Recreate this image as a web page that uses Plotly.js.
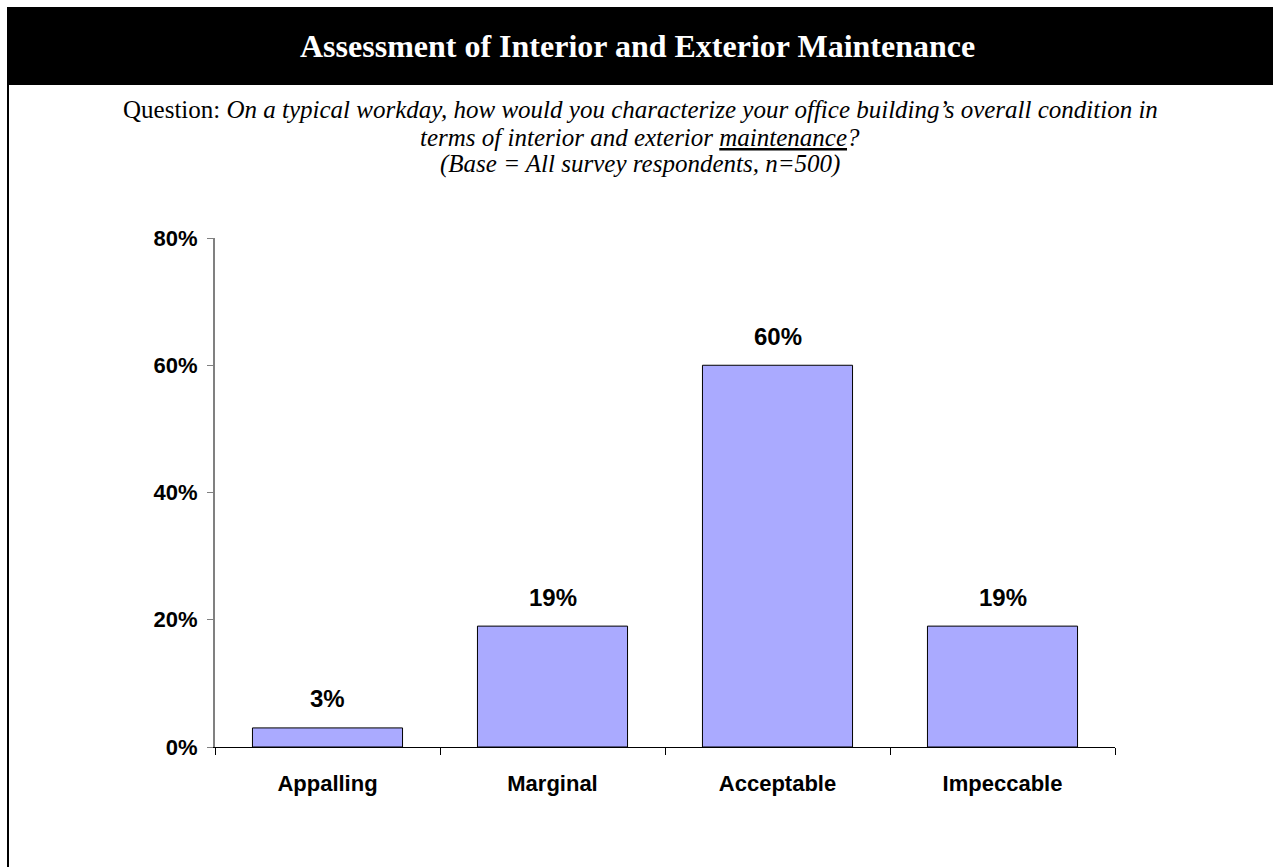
<!DOCTYPE html>
<html>
<head>
<meta charset="utf-8">
<script src="https://cdn.plot.ly/plotly-3.0.1.min.js"></script>
<style>html,body{margin:0;padding:0;background:#fff;}#chart{width:1273px;height:867px;}</style>
</head>
<body>
<div id="chart"></div>
<script>
const categories = ["Appalling", "Marginal", "Acceptable", "Impeccable"];
const values = [3, 19, 60, 19];
const valueLabels = ["3%", "19%", "60%", "19%"];
const yTickValues = [0, 20, 40, 60, 80];
const yTickLabels = ["0%", "20%", "40%", "60%", "80%"];

const titleText = "Assessment of Interior and Exterior Maintenance";
const questionLine1 = "Question: <i>On a typical workday, how would you characterize your office building\u2019s overall condition in</i>";
const questionLine2 = "<i>terms of interior and exterior <u>maintenance</u>?</i>";
const questionLine3 = "<i>(Base = All survey respondents, n=500)</i>";

const W = 1273, H = 867;
const L = 215, R = 1115, T = 238, B = 747;
const px = x => (x - L) / (R - L);
const py = y => (B - y) / (B - T);

const sans = "Liberation Sans, Arial, sans-serif";
const serif = "Liberation Serif, Times New Roman, serif";

const trace = {
  type: "bar",
  x: categories,
  y: values,
  marker: { color: "#AAAAFF", line: { color: "#000000", width: 1 } },
  hoverinfo: "skip"
};

const annotations = categories.map((c, i) => ({
  x: c, y: values[i], xref: "x", yref: "y",
  text: valueLabels[i], showarrow: false,
  yanchor: "middle", yshift: 29,
  font: { family: sans, size: 24, color: "#000", weight: "bold" }
}));

const qFont = { family: serif, size: 25, color: "#000" };
annotations.push(
  { xref: "paper", yref: "paper", x: px(637), y: py(46), text: "<b>" + titleText + "</b>", showarrow: false,
    xanchor: "center", yanchor: "middle", font: { family: serif, size: 32, color: "#fff" } },
  { xref: "paper", yref: "paper", x: px(640), y: py(110), text: questionLine1, showarrow: false,
    xanchor: "center", yanchor: "middle", font: qFont },
  { xref: "paper", yref: "paper", x: px(640), y: py(137), text: questionLine2, showarrow: false,
    xanchor: "center", yanchor: "middle", font: qFont },
  { xref: "paper", yref: "paper", x: px(640), y: py(164), text: questionLine3, showarrow: false,
    xanchor: "center", yanchor: "middle", font: qFont }
);

const shapes = [
  { type: "rect", xref: "paper", yref: "paper", x0: px(7), x1: px(1273), y0: py(85), y1: py(7),
    fillcolor: "#000", line: { width: 0 }, layer: "below" },
  { type: "line", xref: "paper", yref: "paper", x0: px(8), x1: px(8), y0: py(85), y1: py(867),
    line: { color: "#000", width: 2 } }
];

const layout = {
  width: W, height: H,
  margin: { l: L, r: W - R, t: T, b: H - B, pad: 0 },
  paper_bgcolor: "#fff", plot_bgcolor: "#fff",
  showlegend: false,
  bargap: 0.333,
  xaxis: {
    type: "category",
    showline: true, linecolor: "#000", linewidth: 1,
    ticks: "outside", tickson: "boundaries", ticklen: 7, tickcolor: "#000", tickwidth: 1,
    showgrid: false, zeroline: false,
    tickfont: { family: sans, size: 22, color: "#000", weight: "bold" },
    ticklabelstandoff: 17,
    fixedrange: true
  },
  yaxis: {
    range: [0, 80],
    tickvals: yTickValues, ticktext: yTickLabels,
    showline: true, linecolor: "#808080", linewidth: 2,
    ticks: "outside", ticklen: 6, tickcolor: "#808080", tickwidth: 1,
    showgrid: false, zeroline: false,
    tickfont: { family: sans, size: 22, color: "#000", weight: "bold" },
    ticklabelstandoff: 5,
    fixedrange: true
  },
  shapes: shapes,
  annotations: annotations
};

Plotly.newPlot("chart", [trace], layout, { displayModeBar: false, staticPlot: true });
</script>
</body>
</html>
